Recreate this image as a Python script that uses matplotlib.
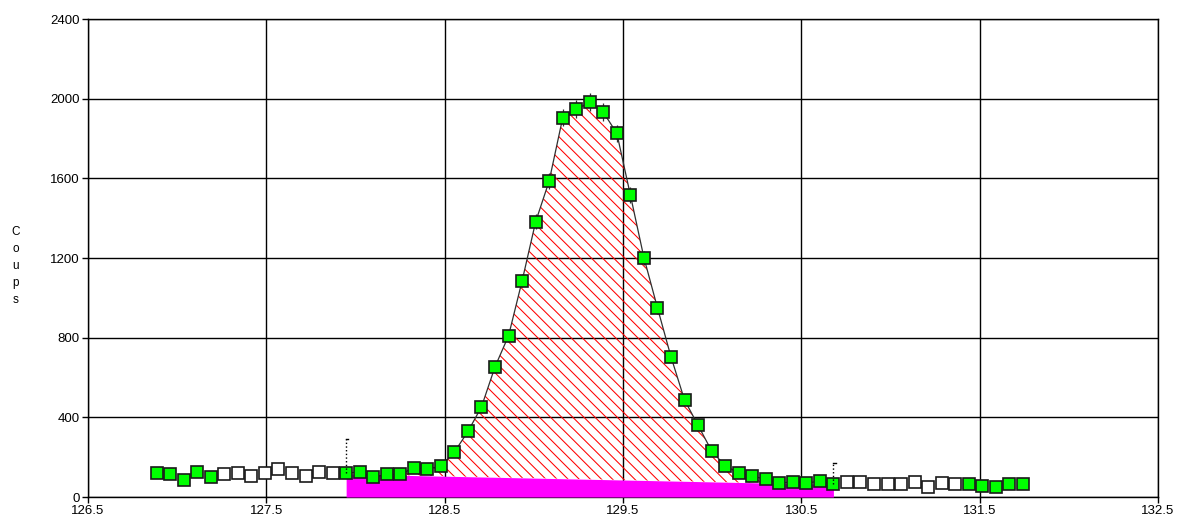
import numpy as np
import matplotlib
matplotlib.use('Agg')
from matplotlib import pyplot as plt

plt.rcParams['font.family'] = ['Liberation Sans', 'DejaVu Sans']
plt.rcParams['hatch.linewidth'] = 0.75

# channel positions (uniform sampling) and counts
x = [126.885 + 0.0759 * i for i in range(65)]
counts = [122, 114, 85, 124, 99,
          114, 122, 107, 122, 141, 119, 105, 127, 119,
          119, 127, 99, 114, 114, 147, 141, 154, 226, 329, 453, 654, 810,
          1085, 1382, 1587, 1904, 1947, 1982, 1932, 1826, 1516, 1202, 950,
          704, 487, 360, 232, 156, 122, 105, 89, 69, 77, 70, 80, 63,
          77, 77, 64, 64, 64, 74, 49, 72, 64,
          64, 57, 49, 64, 64]

# index ranges: green = used for fit/background, white = excluded
roi_start, roi_end = 14, 50
bg_left, bg_right = 115, 63
green_idx = list(range(0, 5)) + list(range(roi_start, roi_end + 1)) + list(range(60, 65))
white_idx = list(range(5, 14)) + list(range(51, 60))

x = np.array(x)
counts = np.array(counts, dtype=float)

fig = plt.figure(figsize=(11.78, 5.24), dpi=100)
ax = fig.add_axes([0.0747, 0.0515, 0.9083, 0.9122])
ax.set_axisbelow(True)

xr = x[roi_start:roi_end + 1]
yr = counts[roi_start:roi_end + 1]
bg = np.interp(xr, [xr[0], xr[-1]], [bg_left, bg_right])

# net peak area (hatched) and background (magenta)
ax.fill_between(xr, bg, yr, where=yr > bg, interpolate=True,
                facecolor='none', edgecolor='red', hatch='\\\\\\', linewidth=0, zorder=2)
ax.fill_between(xr, 0, bg, color='#ff00ff', linewidth=0, zorder=3)

ax.plot(xr, yr, color='#303030', lw=0.9, zorder=4)
ax.errorbar(xr, yr, yerr=np.sqrt(yr), fmt='none', ecolor='#303030', elinewidth=0.9, zorder=4)

ax.plot(x[green_idx], counts[green_idx], ls='none', marker='s', ms=8.5,
        mfc='#00ff00', mec='#1a1a1a', mew=1.2, zorder=5)
ax.plot(x[white_idx], counts[white_idx], ls='none', marker='s', ms=8.5,
        mfc='white', mec='#1a1a1a', mew=1.2, zorder=5)

# region boundary markers
for xi, y0, h in [(xr[0], counts[roi_start], 170), (xr[-1], counts[roi_end], 110)]:
    ax.plot([xi, xi], [y0, y0 + h], ls=':', color='black', lw=1, zorder=6)
    ax.plot([xi, xi + 0.012], [y0 + h, y0 + h], color='black', lw=1, zorder=6)

ax.set_xlim(126.5, 132.5)
ax.set_ylim(0, 2400)
ax.set_xticks(np.arange(126.5, 132.6, 1.0))
ax.set_yticks(np.arange(0, 2401, 400))
ax.set_xticklabels(['126.5', '127.5', '128.5', '129.5', '130.5', '131.5', '132.5'])
ax.grid(True, color='black', lw=1)
ax.tick_params(direction='out', length=4, width=1, labelsize=9.5, pad=2)
for s in ax.spines.values():
    s.set_color('black')
    s.set_linewidth(1)

fig.text(0.013, 0.492, 'C\no\nu\np\ns', ha='center', va='center', fontsize=8.5, linespacing=1.55)

fig.savefig('out.png', dpi=100)
